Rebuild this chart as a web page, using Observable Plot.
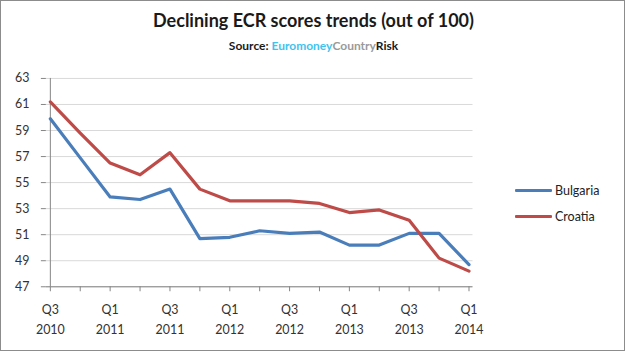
<!DOCTYPE html>
<html>
<head>
<meta charset="utf-8">
<script src="https://cdn.jsdelivr.net/npm/d3@7"></script>
<script src="https://cdn.jsdelivr.net/npm/@observablehq/plot@0.6"></script>
<style>
  html, body { margin: 0; padding: 0; background: #fff; }
  #frame { position: relative; width: 623px; height: 349px; border: 1px solid #8c8c8c; overflow: hidden; font-family: Lato, "Open Sans", sans-serif; }
  #title { position: absolute; left: 0; width: 625px; top: 8px; text-align: center; font-size: 18px; font-weight: bold; color: #1a1a1a; }
  #subtitle { position: absolute; left: 0; width: 625px; top: 37px; text-align: center; font-size: 12px; font-weight: bold; color: #1a1a1a; }
  #chart { position: absolute; left: -1px; top: 59px; }
  #legend { position: absolute; left: 514px; top: 176px; font-size: 12.5px; color: #222; }
  .lg { display: flex; align-items: center; height: 26px; }
  .sw { width: 37px; height: 3px; margin-right: 3px; border-radius: 1px; }
</style>
</head>
<body>
<div id="frame">
  <div id="title">Declining ECR scores trends (out of 100)</div>
  <div id="subtitle">Source: <span style="color:#3fc3ee">Euromoney</span><span style="color:#9a9a9a">Country</span><span style="color:#1a1a1a">Risk</span></div>
  <div id="chart"></div>
  <div id="legend"></div>
</div>
<script>
const quarters = ["Q3 2010","Q4 2010","Q1 2011","Q2 2011","Q3 2011","Q4 2011","Q1 2012","Q2 2012","Q3 2012","Q4 2012","Q1 2013","Q2 2013","Q3 2013","Q4 2013","Q1 2014"];
const bulgaria = [59.9, 56.9, 53.9, 53.7, 54.5, 50.7, 50.8, 51.3, 51.1, 51.2, 50.2, 50.2, 51.1, 51.1, 48.7];
const croatia  = [61.2, 58.8, 56.5, 55.6, 57.3, 54.5, 53.6, 53.6, 53.6, 53.4, 52.7, 52.9, 52.1, 49.2, 48.2];
const seriesNames = ["Bulgaria", "Croatia"];
const seriesColors = ["#4a7ebb", "#be4b48"];
const yTicks = [47, 49, 51, 53, 55, 57, 59, 61, 63];

const data = [];
quarters.forEach((q, i) => {
  data.push({q, series: "Bulgaria", v: bulgaria[i]});
  data.push({q, series: "Croatia", v: croatia[i]});
});

const chart = Plot.plot({
  width: 626,
  height: 291,
  marginLeft: 46,
  marginRight: 152,
  marginTop: 18,
  marginBottom: 64,
  style: {fontFamily: "Lato, 'Open Sans', sans-serif", fontSize: "12.5px", color: "#333", background: "transparent"},
  x: {type: "point", domain: quarters, padding: 0},
  y: {domain: [47, 63]},
  color: {domain: seriesNames, range: seriesColors},
  marks: [
    Plot.gridY(yTicks, {stroke: "#d9d9d9", strokeOpacity: 1}),
    Plot.ruleX([quarters[0]], {stroke: "#868686"}),
    Plot.ruleY([47], {stroke: "#868686"}),
    Plot.axisY(yTicks, {tickSize: 5, tickPadding: 12, stroke: "#868686", label: null, fill: "#333"}),
    Plot.axisX({tickSize: 5, tickPadding: 8, stroke: "#868686", label: null, fill: "#333", lineHeight: 1.6,
      tickFormat: (d, i) => i % 2 === 0 ? d.replace(" ", "\n") : ""}),
    Plot.line(data, {x: "q", y: "v", stroke: "series", z: "series", strokeWidth: 3.2, strokeLinejoin: "round", strokeLinecap: "round"})
  ]
});
document.getElementById("chart").appendChild(chart);

const legend = document.getElementById("legend");
seriesNames.forEach((n, i) => {
  const row = document.createElement("div");
  row.className = "lg";
  row.innerHTML = `<span class="sw" style="background:${seriesColors[i]}"></span><span>${n}</span>`;
  legend.appendChild(row);
});
</script>
</body>
</html>
